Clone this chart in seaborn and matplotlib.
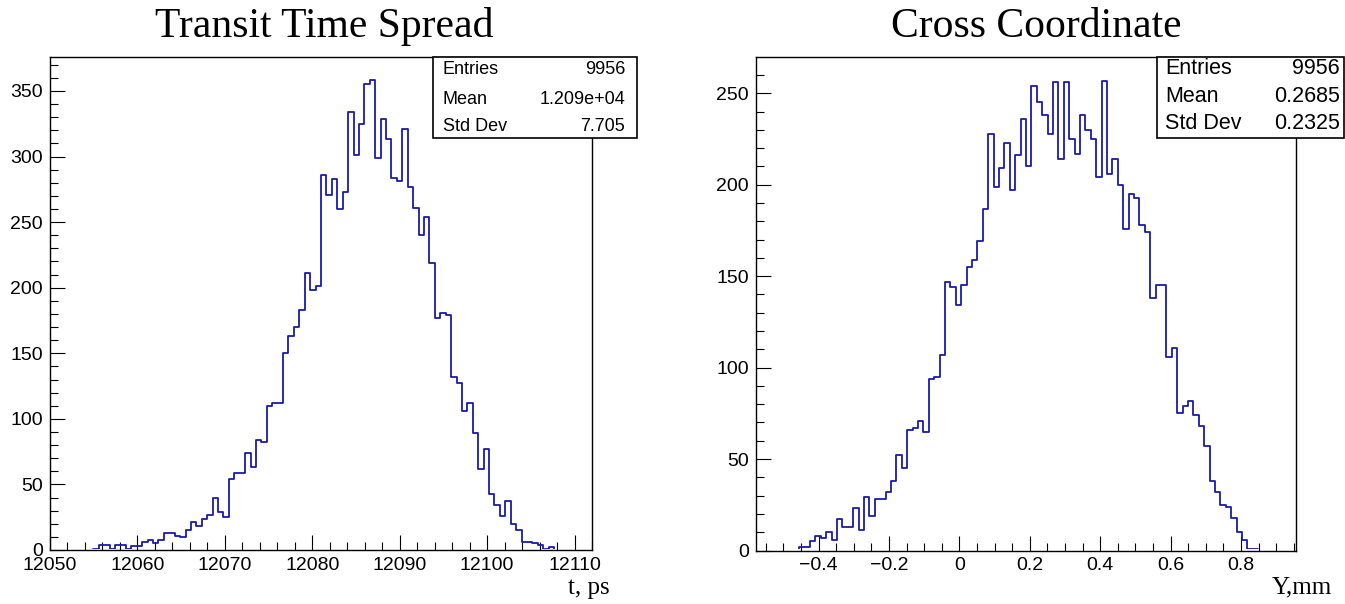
import numpy as np
import pandas as pd
import matplotlib
matplotlib.use("Agg")
import matplotlib.pyplot as plt
from matplotlib.ticker import MultipleLocator, FuncFormatter
from matplotlib.patches import Rectangle
from matplotlib.transforms import Bbox, TransformedBbox
import seaborn as sns

# ---- histogram contents (100 bins each) ----
tts_range = (12050.0, 12112.0)
tts_counts = [
    0, 0, 0, 0, 0, 0, 0, 0, 1, 4,
    4, 1, 4, 4, 1, 3, 3, 6, 8, 5,
    8, 13, 13, 11, 10, 15, 21, 18, 24, 27,
    40, 29, 25, 54, 59, 59, 74, 63, 84, 82,
    110, 112, 112, 150, 163, 170, 183, 211, 198, 201,
    286, 271, 283, 260, 273, 334, 301, 325, 355, 358,
    299, 329, 313, 284, 281, 321, 277, 261, 240, 254,
    219, 177, 181, 179, 132, 127, 106, 112, 89, 62,
    77, 43, 34, 26, 37, 20, 15, 6, 6, 5,
    4, 1, 2, 0, 0, 0, 0, 0, 0, 0,
]

ycoord_range = (-0.578, 0.956)
ycoord_counts = [
    0, 0, 0, 0, 0, 0, 0, 0, 2, 2,
    5, 8, 7, 10, 6, 17, 13, 13, 23, 11,
    29, 19, 28, 28, 32, 38, 52, 45, 66, 67,
    71, 65, 94, 95, 107, 147, 144, 134, 145, 155,
    159, 169, 187, 228, 199, 209, 223, 197, 216, 236,
    210, 254, 245, 238, 228, 256, 214, 256, 225, 217,
    238, 230, 225, 204, 257, 206, 214, 200, 176, 195,
    193, 178, 174, 138, 145, 145, 106, 111, 75, 79,
    82, 74, 68, 57, 38, 32, 25, 24, 18, 10,
    6, 1, 1, 0, 0, 0, 0, 0, 0, 0,
]

titles = ["Transit Time Spread", "Cross Coordinate"]
xlabels = ["t, ps", "Y,mm"]
stats_rows = [
    [("Entries", "9956"), ("Mean", "1.209e+04"), ("Std Dev", "7.705")],
    [("Entries", "9956"), ("Mean", "0.2685"), ("Std Dev", "0.2325")],
]

LINE = "#1a1aaa"
W, H = 1345, 604
SANS = "Liberation Sans"
SERIF = "Liberation Serif"

sns.set_style("white")
plt.rcParams["font.family"] = [SANS, "DejaVu Sans"]
plt.rcParams["text.color"] = "black"
plt.rcParams["xtick.color"] = "black"
plt.rcParams["ytick.color"] = "black"
plt.rcParams["axes.labelcolor"] = "black"

fig = plt.figure(figsize=(W / 100, H / 100), dpi=100)


def fx(px):
    return px / W


def fy(py):
    return 1 - py / H


def draw_hist(ax, rng, counts, height_px):
    nb = len(counts)
    edges = np.linspace(rng[0], rng[1], nb + 1)
    centers = 0.5 * (edges[:-1] + edges[1:])
    df = pd.DataFrame({"x": centers, "n": np.asarray(counts, dtype=float)})
    sns.histplot(data=df, x="x", weights="n", bins=nb, binrange=rng,
                 element="step", fill=False, color=LINE, linewidth=1.3,
                 ax=ax, zorder=1)
    # keep the empty-bin baseline hidden under the bottom axis line
    eps = 1.2 / height_px
    for ln in ax.lines:
        ln.set_clip_box(TransformedBbox(Bbox([[0, eps], [1, 1]]), ax.transAxes))
    ax.set_xlim(rng)
    ax.set_ylim(0, 1.05 * max(counts))
    ax.set_xlabel("")
    ax.set_ylabel("")
    for s in ax.spines.values():
        s.set_visible(True)
        s.set_color("black")
        s.set_linewidth(1.0)
        s.set_zorder(3)
    ax.tick_params(axis="both", which="major", direction="in", length=11,
                   width=0.8, labelsize=14, top=False, right=False, pad=5,
                   bottom=True, left=True, colors="black")
    ax.tick_params(axis="both", which="minor", direction="in", length=5.5,
                   width=0.8, top=False, right=False, bottom=True, left=True,
                   colors="black")


# left panel: transit time
ax1 = fig.add_axes([fx(50), fy(550), fx(542), 493 / H])
draw_hist(ax1, tts_range, tts_counts, 493)
ax1.xaxis.set_major_locator(MultipleLocator(10))
ax1.xaxis.set_minor_locator(MultipleLocator(2))
ax1.yaxis.set_major_locator(MultipleLocator(50))
ax1.yaxis.set_minor_locator(MultipleLocator(10))
ax1.xaxis.set_major_formatter(FuncFormatter(lambda v, p: "%d" % round(v)))
ax1.set_xlim(tts_range)

# right panel: cross coordinate
ax2 = fig.add_axes([fx(756), fy(550.5), fx(540), 493.5 / H])
draw_hist(ax2, ycoord_range, ycoord_counts, 493.5)
ax2.xaxis.set_major_locator(MultipleLocator(0.2))
ax2.xaxis.set_minor_locator(MultipleLocator(0.05))
ax2.yaxis.set_major_locator(MultipleLocator(50))
ax2.yaxis.set_minor_locator(MultipleLocator(10))
ax2.xaxis.set_major_formatter(
    FuncFormatter(lambda v, p: ("%g" % round(v, 2)).replace("-", "\u2212")))

for ax in (ax1, ax2):
    for lab in ax.get_xticklabels() + ax.get_yticklabels():
        lab.set_fontfamily(SANS)
        lab.set_color("black")

# titles
fig.text(fx(324), fy(37), titles[0], family=SERIF, fontsize=30,
         ha="center", va="baseline", color="black")
fig.text(fx(1036), fy(37), titles[1], family=SERIF, fontsize=30,
         ha="center", va="baseline", color="black")

# axis titles at the right end of each x axis
fig.text(fx(610), fy(594), xlabels[0], family=SERIF, fontsize=18,
         ha="right", va="baseline", color="black")
fig.text(fx(1332), fy(593), xlabels[1], family=SERIF, fontsize=18,
         ha="right", va="baseline", color="black")


def stats_box(x0, x1, y0, y1, rows, size, rows_y, pad_l, pad_r):
    fig.patches.append(Rectangle((fx(x0), fy(y1)), fx(x1 - x0), (y1 - y0) / H,
                                 transform=fig.transFigure, facecolor="white",
                                 edgecolor="black", linewidth=1.2, zorder=5))
    for (name, val), ry in zip(rows, rows_y):
        fig.text(fx(x0 + pad_l), fy(ry), name, family=SANS, fontsize=size,
                 ha="left", va="center", zorder=6, color="black")
        fig.text(fx(x1 - pad_r), fy(ry), val, family=SANS, fontsize=size,
                 ha="right", va="center", zorder=6, color="black")


stats_box(433, 637, 57, 138, stats_rows[0], 13, [70, 99, 126], 10, 12)
stats_box(1157, 1344, 57, 138, stats_rows[1], 15.5, [69, 96, 124], 8, 4)

fig.savefig("out.png", dpi=100)
